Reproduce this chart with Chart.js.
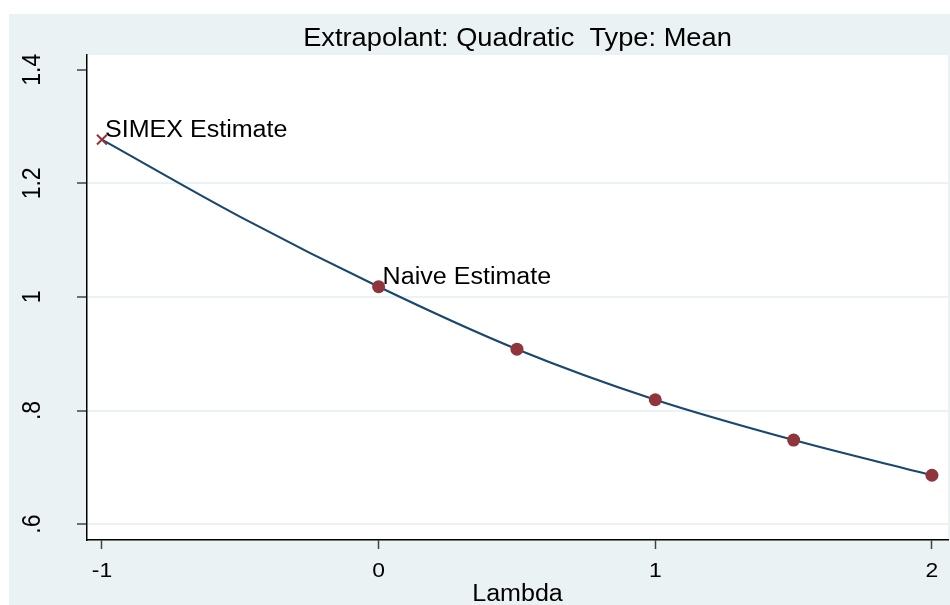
<!DOCTYPE html>
<html>
<head>
<meta charset="utf-8">
<script src="https://cdn.jsdelivr.net/npm/chart.js@4.4.1/dist/chart.umd.min.js"></script>
<style>
  html, body { margin: 0; padding: 0; background: #ffffff; }
  canvas { display: block; }
</style>
</head>
<body>
<canvas id="simexChart" width="950" height="605"></canvas>
<script>
// data
var lambdaPoints = [0, 0.5, 1, 1.5, 2];
var meanEstimates = [1.018, 0.908, 0.819, 0.748, 0.686];
var curveLambda = [-1, -0.5, 0, 0.5, 1, 1.5, 2];
var curveValues = [1.277, 1.141, 1.018, 0.908, 0.819, 0.748, 0.686];
var simexLambda = [-1];
var simexValue = [1.277];
var xTicks = [-1, 0, 1, 2];
var xTickLabels = ["-1", "0", "1", "2"];
var yTicks = [0.6, 0.8, 1, 1.2, 1.4];
var yTickLabels = [".6", ".8", "1", "1.2", "1.4"];
var titleText = "Extrapolant: Quadratic  Type: Mean";
var xTitle = "Lambda";

var BG = "#eaf2f3";
var NAVY = "#1a476f";
var MAROON = "#90353b";
var FONT = "'Liberation Sans', Arial, sans-serif";
var STRETCH = 1.09; // the reference text is a bit wider than plain Arial

function toXY(xs, ys) {
    return xs.map(function(v, i) { return { x: v, y: ys[i] }; });
}

// text drawn with a slight horizontal stretch
function wideText(c, txt, x, y, size, align, rotate) {
    c.save();
    c.font = size + "px " + FONT;
    c.textAlign = align;
    c.translate(x, y);
    c.scale(STRETCH, 1);
    if (rotate) c.rotate(-Math.PI / 2);
    c.fillText(txt, 0, 0);
    c.restore();
}

//BACKGROUND + CUSTOM TEXT
var stataLook = {
    id: "stataLook",
    beforeDraw: function(chart) {
        var c = chart.ctx;
        var a = chart.chartArea;
        c.save();
        c.fillStyle = BG;
        c.fillRect(9, 14, chart.width - 9, chart.height - 14);
        c.fillStyle = "#ffffff";
        c.fillRect(a.left, a.top, a.right - a.left, a.bottom - a.top);
        c.restore();
    },
    afterDraw: function(chart) {
        var c = chart.ctx;
        var a = chart.chartArea;
        var ys = chart.scales.y;
        var xs = chart.scales.x;
        c.save();
        c.fillStyle = "#000000";

        // rotated y tick labels
        c.textBaseline = "middle";
        yTicks.forEach(function(v, i) {
            wideText(c, yTickLabels[i], 33, ys.getPixelForValue(v), 23, "center", true);
        });

        // x tick labels
        xTicks.forEach(function(v, i) {
            wideText(c, xTickLabels[i], xs.getPixelForValue(v), 571, 21, "center", false);
        });

        // title and x axis title
        c.textBaseline = "alphabetic";
        var mid = (a.left + a.right) / 2;
        wideText(c, titleText, mid, 46, 25, "center", false);
        wideText(c, xTitle, mid, 601, 23, "center", false);

        // point annotations
        wideText(c, "SIMEX Estimate", xs.getPixelForValue(simexLambda[0]) + 3, ys.getPixelForValue(simexValue[0]) - 3, 23, "left", false);
        wideText(c, "Naive Estimate", xs.getPixelForValue(lambdaPoints[0]) + 4, ys.getPixelForValue(meanEstimates[0]) - 3, 23, "left", false);
        c.restore();
    }
};

var ctx = document.getElementById("simexChart").getContext("2d");
var simexChart = new Chart(ctx, {
    type: "scatter",
    data: {
        datasets: [{
            label: "fit",
            type: "line",
            data: toXY(curveLambda, curveValues),
            borderColor: NAVY,
            borderWidth: 2.2,
            pointRadius: 0,
            cubicInterpolationMode: "monotone",
            fill: false,
            order: 2
        }, {
            label: "mean",
            data: toXY(lambdaPoints, meanEstimates),
            backgroundColor: MAROON,
            borderColor: MAROON,
            borderWidth: 0,
            pointRadius: 6.5,
            order: 1
        }, {
            label: "simex",
            data: toXY(simexLambda, simexValue),
            pointStyle: "crossRot",
            borderColor: MAROON,
            borderWidth: 2,
            pointRadius: 7,
            order: 1
        }]
    },
    options: {
        animation: false,
        responsive: false,
        clip: false,
        layout: {
            autoPadding: false,
            padding: { top: 55, right: 2, left: 0, bottom: 0 }
        },
        plugins: {
            legend: { display: false },
            tooltip: { enabled: false }
        },
        scales: {
            x: {
                type: "linear",
                min: -1.054,
                max: 2.058,
                afterBuildTicks: function(s) {
                    s.ticks = xTicks.map(function(v) { return { value: v }; });
                },
                afterFit: function(s) {
                    s.height = 65;
                    s.paddingLeft = 0;
                    s.paddingRight = 0;
                },
                border: { color: "#000000", width: 1.5 },
                grid: {
                    drawOnChartArea: false,
                    drawTicks: true,
                    tickLength: 9,
                    tickColor: "#444444",
                    tickWidth: 1.5
                },
                ticks: { display: false }
            },
            y: {
                type: "linear",
                min: 0.572,
                max: 1.426,
                afterBuildTicks: function(s) {
                    s.ticks = yTicks.map(function(v) { return { value: v }; });
                },
                afterFit: function(s) {
                    s.width = 87;
                    s.paddingTop = 0;
                    s.paddingBottom = 0;
                },
                border: { color: "#000000", width: 1.5 },
                grid: {
                    color: function(c) {
                        return c.tick && Math.abs(c.tick.value - 1.4) < 1e-6 ? "rgba(0,0,0,0)" : BG;
                    },
                    lineWidth: 2,
                    drawTicks: true,
                    tickLength: 10,
                    tickColor: "#444444",
                    tickWidth: 1.5
                },
                ticks: { display: false }
            }
        }
    },
    plugins: [stataLook]
});
</script>
</body>
</html>
